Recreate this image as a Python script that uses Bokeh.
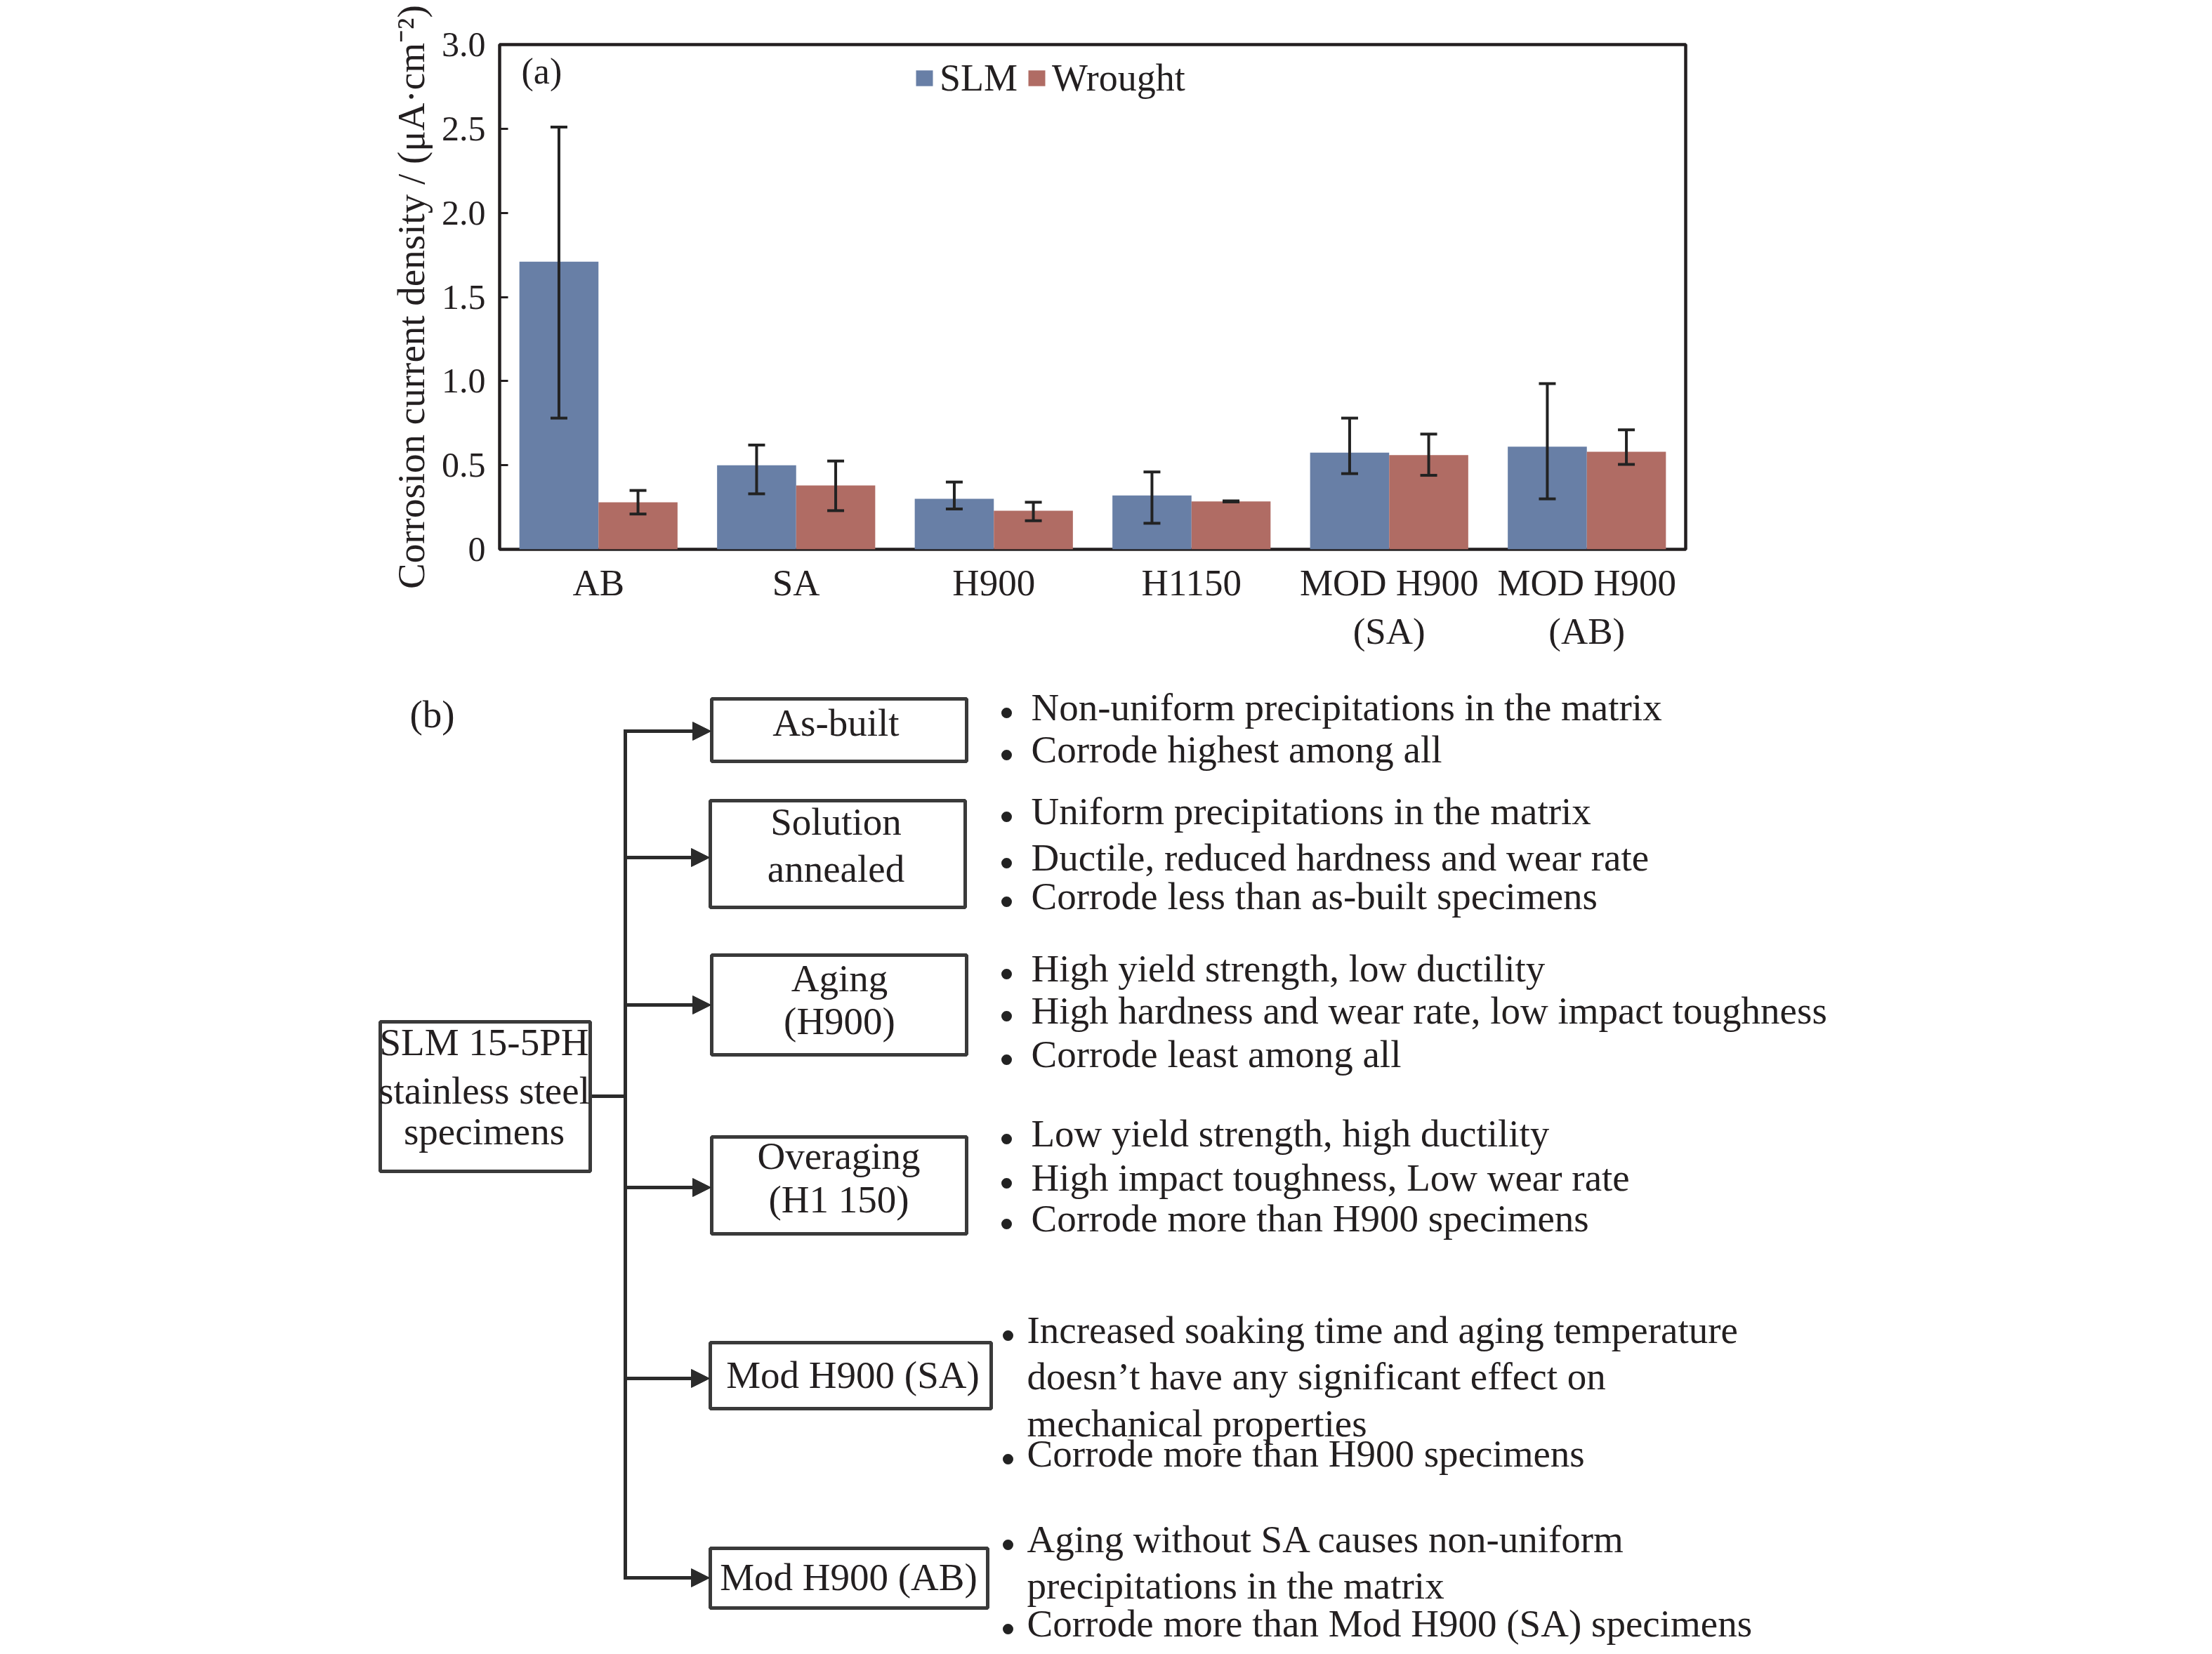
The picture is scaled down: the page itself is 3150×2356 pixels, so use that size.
from bokeh.plotting import figure
from bokeh.models import (FactorRange, Range1d, FixedTicker, CustomJSTickFormatter,
                          Legend, LegendItem, Label, ColumnDataSource, Arrow, NormalHead)
from bokeh.transform import dodge
from bokeh.core.properties import value
from bokeh.embed import file_html
from bokeh.resources import INLINE

# ---------------- data: panel (a) ----------------
categories = ["AB", "SA", "H900", "H1150", "MOD H900\n(SA)", "MOD H900\n(AB)"]
slm = [1.71, 0.50, 0.30, 0.32, 0.575, 0.61]
slm_low = [0.78, 0.33, 0.24, 0.155, 0.45, 0.30]
slm_high = [2.51, 0.62, 0.40, 0.46, 0.78, 0.985]
wrought = [0.28, 0.38, 0.23, 0.285, 0.56, 0.58]
wrought_low = [0.21, 0.23, 0.17, 0.282, 0.44, 0.505]
wrought_high = [0.35, 0.525, 0.28, 0.288, 0.685, 0.71]
y_ticks = [0, 0.5, 1.0, 1.5, 2.0, 2.5, 3.0]
series_names = ["SLM", "Wrought"]
y_label = "Corrosion current density / (\u03bcA\u00b7cm\u207b\u00b2)"

# ---------------- data: panel (b) ----------------
root_lines = ["SLM 15-5PH", "stainless steel", "specimens"]
root_line_y = [1504, 1573, 1631]
box_lines = [["As-built"], ["Solution", "annealed"], ["Aging", "(H900)"],
             ["Overaging", "(H1 150)"], ["Mod H900 (SA)"], ["Mod H900 (AB)"]]
box_line_y = [[1049], [1190, 1257], [1413, 1474], [1666, 1728], [1978], [2266]]
box_text_x = [1190, 1190, 1195, 1194, 1214, 1208]
box_left = [1013, 1011, 1013, 1013, 1011, 1011]
box_right = [1376, 1374, 1376, 1376, 1411, 1406]
box_top = [995, 1140, 1360, 1619, 1912, 2205]
box_bottom = [1084, 1292, 1502, 1757, 2006, 2290]
arrow_y = [1041, 1221, 1431, 1691, 1963, 2247]
root_box = dict(left=541, right=840, top=1455, bottom=1668)
trunk_x = 890
root_link_y = 1561

bullet_text = [
    "Non-uniform precipitations in the matrix",
    "Corrode highest among all",
    "Uniform precipitations in the matrix",
    "Ductile, reduced hardness and wear rate",
    "Corrode less than as-built specimens",
    "High yield strength, low ductility",
    "High hardness and wear rate, low impact toughness",
    "Corrode least among all",
    "Low yield strength, high ductility",
    "High impact toughness, Low wear rate",
    "Corrode more than H900 specimens",
    "Increased soaking time and aging temperature",
    "doesn\u2019t have any significant effect on",
    "mechanical properties",
    "Corrode more than H900 specimens",
    "Aging without SA causes non-uniform",
    "precipitations in the matrix",
    "Corrode more than Mod H900 (SA) specimens",
]
bullet_y = [1027, 1087, 1175, 1241, 1296, 1399, 1459, 1521, 1634, 1697, 1755,
            1914, 1980, 2047, 2090, 2212, 2278, 2332]
bullet_has_dot = [1, 1, 1, 1, 1, 1, 1, 1, 1, 1, 1, 1, 0, 0, 1, 1, 0, 1]
bullet_text_x = [1468] * 11 + [1462] * 7
bullet_dot_x = [1433] * 11 + [1435] * 7

FONT = "Liberation Serif"
TXT = "#231f20"
LINE = "#2b2b2b"
BLUE = "#687FA6"
RED = "#B06C64"
TSHIFT = 20  # renderer baseline compensation (px)

# ---------------- panel (a) ----------------
p = figure(width=3150, height=948, x_range=FactorRange(factors=categories),
           y_range=Range1d(0, 3.0), output_backend="svg", toolbar_location=None,
           min_border_left=711, min_border_right=750, min_border_top=63,
           min_border_bottom=166)
p.x_range.range_padding = 0
p.xgrid.visible = False
p.ygrid.visible = False
p.outline_line_color = TXT
p.outline_line_width = 4.5
p.outline_line_alpha = 1.0

src = ColumnDataSource(dict(cat=categories, slm=slm, slm_low=slm_low, slm_high=slm_high,
                            wrought=wrought, wrought_low=wrought_low,
                            wrought_high=wrought_high))

r1 = p.vbar(x=dodge("cat", -0.2, range=p.x_range), top="slm", width=0.4, source=src,
            fill_color=BLUE, line_color=None)
r2 = p.vbar(x=dodge("cat", 0.2, range=p.x_range), top="wrought", width=0.4, source=src,
            fill_color=RED, line_color=None)

for off, lo, hi in [(-0.2, "slm_low", "slm_high"), (0.2, "wrought_low", "wrought_high")]:
    xx = dodge("cat", off, range=p.x_range)
    p.segment(x0=xx, y0=lo, x1=xx, y1=hi, source=src, line_color="#222222", line_width=4)
    p.scatter(x=xx, y=lo, source=src, marker="dash", size=24, line_width=4,
              line_color="#222222")
    p.scatter(x=xx, y=hi, source=src, marker="dash", size=24, line_width=4,
              line_color="#222222")

yax = p.yaxis[0]
yax.ticker = FixedTicker(ticks=y_ticks)
yax.formatter = CustomJSTickFormatter(code="return tick == 0 ? '0' : tick.toFixed(1);")
yax.axis_line_color = None
yax.major_tick_in = 12
yax.major_tick_out = 0
yax.major_tick_line_width = 3
yax.major_tick_line_color = TXT
yax.minor_tick_line_color = None
yax.major_label_text_font = FONT
yax.major_label_text_font_size = "50px"
yax.major_label_text_color = TXT
yax.major_label_standoff = 20
yax.axis_label = y_label
yax.axis_label_text_font = FONT
yax.axis_label_text_font_size = "55px"
yax.axis_label_text_font_style = "normal"
yax.axis_label_text_color = TXT
yax.axis_label_standoff = 10

xax = p.xaxis[0]
xax.axis_line_color = None
xax.major_tick_in = 0
xax.major_tick_out = 0
xax.major_tick_line_color = None
xax.minor_tick_line_color = None
xax.major_label_text_font = FONT
xax.major_label_text_font_size = "53px"
xax.major_label_text_color = TXT
xax.major_label_standoff = 18

legend = Legend(items=[LegendItem(label=series_names[0], renderers=[r1]),
                       LegendItem(label=series_names[1], renderers=[r2])],
                location=(590, 640), orientation="horizontal",
                glyph_width=30, glyph_height=28, label_standoff=7, spacing=12,
                padding=0, margin=0, border_line_color=None, background_fill_alpha=0,
                label_text_font=FONT, label_text_font_size="54px", label_text_color=TXT)
p.add_layout(legend)

p.add_layout(Label(x=31, y=665 + TSHIFT - 4, x_units="screen", y_units="screen", text="(a)",
                   text_font=FONT, text_font_size="52px", text_color=TXT,
                   text_baseline="alphabetic"))

# ---------------- panel (b) ----------------
q = figure(width=3150, height=1408, x_range=Range1d(0, 3150), y_range=Range1d(2356, 948),
           output_backend="svg", toolbar_location=None, min_border=0,
           x_axis_location=None, y_axis_location=None, outline_line_color=None)
q.grid.visible = False

# connectors
q.segment(x0=[trunk_x], y0=[arrow_y[0]], x1=[trunk_x], y1=[arrow_y[-1]],
          line_color=LINE, line_width=5)
q.segment(x0=[root_box["right"]], y0=[root_link_y], x1=[trunk_x], y1=[root_link_y],
          line_color=LINE, line_width=5)
asrc = ColumnDataSource(dict(x0=[trunk_x - 2.5] * len(arrow_y), y=arrow_y,
                             x1=[b - 1 for b in box_left]))
q.add_layout(Arrow(end=NormalHead(size=26, fill_color=LINE, line_color=LINE, line_width=1),
                   x_start="x0", y_start="y", x_end="x1", y_end="y", source=asrc,
                   line_color=LINE, line_width=5))

# boxes
q.quad(left=box_left, right=box_right, top=box_top, bottom=box_bottom,
       fill_color="white", line_color="#3a3a3a", line_width=5)
q.quad(left=[root_box["left"]], right=[root_box["right"]], top=[root_box["top"]],
       bottom=[root_box["bottom"]], fill_color="white", line_color="#3a3a3a", line_width=5)

# box texts
bx, by, bt = [], [], []
for lines, ys, xc in zip(box_lines, box_line_y, box_text_x):
    for t, yy in zip(lines, ys):
        bx.append(xc)
        by.append(yy - TSHIFT)
        bt.append(t)
q.text(x=bx, y=by, text=bt, text_font=value(FONT), text_font_size=value("55px"),
       text_color=TXT, text_align="center", text_baseline="alphabetic")
q.text(x=[689] * 3, y=[yy - TSHIFT for yy in root_line_y], text=root_lines,
       text_font=value(FONT), text_font_size=value("55px"), text_color=TXT,
       text_align="center", text_baseline="alphabetic")
q.text(x=[583], y=[1037 - TSHIFT], text=["(b)"], text_font=value(FONT),
       text_font_size=value("55px"), text_color=TXT, text_baseline="alphabetic")

# bullet texts
q.text(x=bullet_text_x, y=[yy - TSHIFT for yy in bullet_y], text=bullet_text,
       text_font=value(FONT), text_font_size=value("55px"), text_color=TXT,
       text_baseline="alphabetic")
dx = [x for x, h in zip(bullet_dot_x, bullet_has_dot) if h]
dy = [y - 12 for y, h in zip(bullet_y, bullet_has_dot) if h]
q.scatter(x=dx, y=dy, marker="circle", size=15, fill_color="#222222", line_color=None)

open("out.html", "w").write(file_html([p, q], INLINE))
